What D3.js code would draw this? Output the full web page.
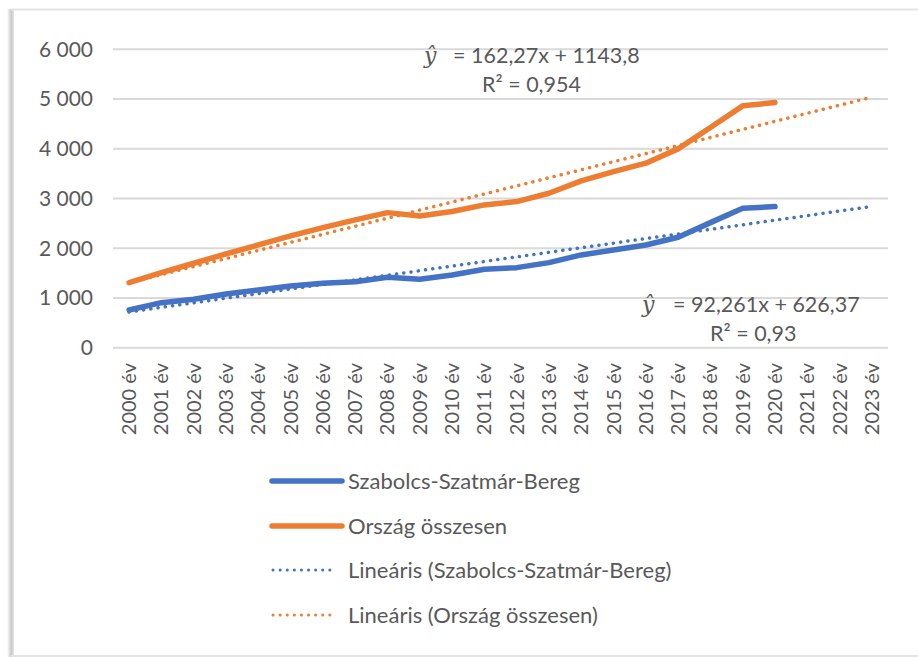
<!DOCTYPE html>
<html>
<head>
<meta charset="utf-8">
<script src="https://cdn.jsdelivr.net/npm/d3@7"></script>
<style>
  body { margin: 0; background: #fff; }
  svg { display: block; }
  text { font-family: Lato, "Open Sans", sans-serif; fill: #595959; }
</style>
</head>
<body>
<svg id="chart"></svg>
<script>
const years = ["2000 év","2001 év","2002 év","2003 év","2004 év","2005 év","2006 év","2007 év",
  "2008 év","2009 év","2010 év","2011 év","2012 év","2013 év","2014 év","2015 év","2016 év",
  "2017 év","2018 év","2019 év","2020 év","2021 év","2022 év","2023 év"];

// Szabolcs-Szatmár-Bereg, 2000..2020
const szabolcs = [758, 905, 973, 1080, 1161, 1241, 1295, 1328, 1416, 1376, 1463,
  1577, 1610, 1710, 1865, 1966, 2066, 2221, 2515, 2805, 2837];
// Ország összesen, 2000..2020
const orszag = [1308, 1509, 1698, 1885, 2066, 2247, 2414, 2569, 2716, 2650, 2740,
  2871, 2938, 3106, 3354, 3541, 3710, 3998, 4427, 4863, 4930];

// trend line coefficients as printed on the chart (x = 1 for the first year)
const trendSlope = [92.261, 162.27];
const trendIntercept = [626.37, 1143.8];

const yTicks = [0, 1000, 2000, 3000, 4000, 5000, 6000];
const seriesNames = ["Szabolcs-Szatmár-Bereg", "Ország összesen",
  "Lineáris (Szabolcs-Szatmár-Bereg)", "Lineáris (Ország összesen)"];

const width = 918, height = 657;
const blue = "#4472C4", orange = "#ED7D31";

const svg = d3.select("#chart").attr("width", width).attr("height", height);

// frame with shadow
const defs = svg.append("defs");
const grad = defs.append("linearGradient").attr("id", "shadow");
grad.append("stop").attr("offset", "0%").attr("stop-color", "#fff");
grad.append("stop").attr("offset", "60%").attr("stop-color", "#c8c8c8");
grad.append("stop").attr("offset", "100%").attr("stop-color", "#e6e6e6");
svg.append("rect").attr("x", 7).attr("y", 9).attr("width", 7).attr("height", 648)
  .attr("fill", "url(#shadow)");
svg.append("line").attr("x1", 11).attr("x2", 918).attr("y1", 9.5).attr("y2", 9.5)
  .attr("stroke", "#e4e4e4").attr("stroke-width", 2);
svg.append("line").attr("x1", 11).attr("x2", 918).attr("y1", 656).attr("y2", 656)
  .attr("stroke", "#e4e4e4").attr("stroke-width", 2);

const x = d3.scaleBand().domain(years).range([113, 888]);
const y = d3.scaleLinear().domain([0, 6000]).range([347.7, 49.3]);
const cx = d => x(d) + x.bandwidth() / 2;

// gridlines
svg.append("g").selectAll("line").data(yTicks).join("line")
  .attr("x1", 113).attr("x2", 888)
  .attr("y1", d => y(d)).attr("y2", d => y(d))
  .attr("stroke", "#d9d9d9").attr("stroke-width", 2);

// y axis labels
const fmt = v => v === 0 ? "0" : d3.format(",")(v).replace(",", " ");
svg.append("g").selectAll("text").data(yTicks).join("text")
  .attr("x", 93).attr("y", d => y(d)).attr("dy", "0.35em")
  .attr("text-anchor", "end").style("font-size", "21px")
  .text(fmt);

// x axis labels
svg.append("g").selectAll("text").data(years).join("text")
  .attr("transform", d => `translate(${cx(d)},363) rotate(-90)`)
  .attr("dy", "0.35em").attr("text-anchor", "end").style("font-size", "20px")
  .text(d => d);

// trend lines
const trendLine = d3.line().x(d => cx(years[d.i])).y(d => y(d.v));
[0, 1].forEach(k => {
  const pts = [0, years.length - 1].map(i => ({ i, v: trendSlope[k] * (i + 1) + trendIntercept[k] }));
  svg.append("path").attr("d", trendLine(pts))
    .attr("fill", "none").attr("stroke", k === 0 ? blue : orange)
    .attr("stroke-width", 3.5).attr("stroke-linecap", "round")
    .attr("stroke-dasharray", "0.1 7.2");
});

// data lines
const line = d3.line().x((d, i) => cx(years[i])).y(d => y(d));
[[szabolcs, blue], [orszag, orange]].forEach(([data, col]) => {
  svg.append("path").datum(data).attr("d", line)
    .attr("fill", "none").attr("stroke", col).attr("stroke-width", 5.5)
    .attr("stroke-linecap", "round").attr("stroke-linejoin", "round");
});

// equation labels
function equation(hx, ex, ys, eq, r2, rx) {
  svg.append("text").attr("x", hx).attr("y", ys).style("font-size", "22px")
    .style("font-family", "'DejaVu Serif', serif").style("font-style", "italic")
    .text("ŷ");
  svg.append("text").attr("x", ex).attr("y", ys).style("font-size", "21.5px").text(eq);
  svg.append("text").attr("x", rx).attr("y", ys + 29).style("font-size", "21.5px")
    .text("R² = " + r2);
}
equation(424, 453, 63, "= 162,27x + 1143,8", "0,954", 482);
equation(642, 673, 312, "= 92,261x + 626,37", "0,93", 710);

// legend
const legend = svg.append("g");
const rows = [481, 526, 570, 615];
seriesNames.forEach((name, i) => {
  const col = i % 2 === 0 ? blue : orange;
  const dotted = i >= 2;
  legend.append("line")
    .attr("x1", dotted ? 273 : 272).attr("x2", dotted ? 335 : 342)
    .attr("y1", rows[i]).attr("y2", rows[i])
    .attr("stroke", col).attr("stroke-width", dotted ? 3 : 5.5)
    .attr("stroke-linecap", "round")
    .attr("stroke-dasharray", dotted ? "0.1 7" : null);
  legend.append("text").attr("x", 348).attr("y", rows[i]).attr("dy", "0.35em")
    .style("font-size", "22px").text(name);
});
</script>
</body>
</html>
